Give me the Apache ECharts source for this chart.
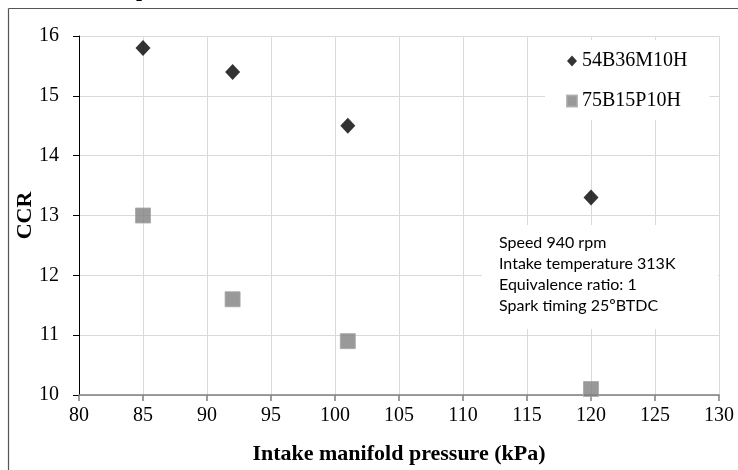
<!DOCTYPE html>
<html>
<head>
<meta charset="utf-8">
<script src="https://cdn.jsdelivr.net/npm/echarts@6/dist/echarts.min.js"></script>
<style>html,body{margin:0;padding:0;background:#fff}#c{width:738px;height:470px}</style>
</head>
<body>
<div id="c"></div>
<script>
var seriesNames = ['54B36M10H', '75B15P10H'];
var pressure = [85, 92, 101, 120];
var ccrA = [15.8, 15.4, 14.5, 13.3];
var ccrB = [13.0, 11.6, 10.9, 10.1];
var xTicks = [80, 85, 90, 95, 100, 105, 110, 115, 120, 125, 130];
var yTicks = [10, 11, 12, 13, 14, 15, 16];
var noteLines = ['Speed 940 rpm', 'Intake temperature 313K', 'Equivalence ratio: 1', 'Spark timing 25ºBTDC'];
var xTitle = 'Intake manifold pressure (kPa)';
var yTitle = 'CCR';

function pairs(xs, ys) { return xs.map(function (x, i) { return [x, ys[i]]; }); }

var chart = echarts.init(document.getElementById('c'), null, { renderer: 'canvas' });
var serif = 'Liberation Serif';
chart.setOption({
  animation: false,
  backgroundColor: '#fff',
  textStyle: { fontFamily: serif },
  grid: { left: 79, right: 19, top: 36, bottom: 74, containLabel: false },
  xAxis: {
    type: 'value', min: xTicks[0], max: xTicks[xTicks.length - 1], interval: 5,
    name: xTitle, nameLocation: 'middle', nameGap: 48,
    nameTextStyle: { fontFamily: serif, fontWeight: 'bold', fontSize: 22, color: '#000' },
    axisLine: { show: true, onZero: false, lineStyle: { color: '#7f7f7f', width: 1.5 } },
    axisTick: { show: true, inside: false, length: 6, lineStyle: { color: '#7f7f7f', width: 1.5 } },
    axisLabel: { fontFamily: serif, fontSize: 20, color: '#000', margin: 11 },
    splitLine: { show: true, lineStyle: { color: '#d9d9d9', width: 1 } }
  },
  yAxis: {
    type: 'value', min: yTicks[0], max: yTicks[yTicks.length - 1], interval: 1,
    name: yTitle, nameLocation: 'middle', nameGap: 43, nameRotate: 90, nameMoveOverlap: false,
    nameTextStyle: { fontFamily: serif, fontWeight: 'bold', fontSize: 22, color: '#000' },
    axisLine: { show: true, lineStyle: { color: '#000', width: 1 } },
    axisTick: { show: true, inside: false, length: 6, lineStyle: { color: '#000', width: 1 } },
    axisLabel: { fontFamily: serif, fontSize: 20, color: '#000', margin: 20 },
    splitLine: { show: true, lineStyle: { color: '#d9d9d9', width: 1 } }
  },
  legend: {
    data: [
      { name: seriesNames[0], icon: 'diamond' },
      { name: seriesNames[1], icon: 'rect' }
    ],
    orient: 'vertical', left: 545, top: 40, itemGap: 20, itemWidth: 10, itemHeight: 11,
    backgroundColor: '#fff', padding: [11, 22, 9, 21],
    textStyle: { fontFamily: serif, fontSize: 20, color: '#000' }
  },
  graphic: [
    { type: 'line', shape: { x1: 8.5, y1: 8.5, x2: 738, y2: 8.5 }, style: { stroke: '#555', lineWidth: 1.2 }, z: 100 },
    { type: 'line', shape: { x1: 8.5, y1: 8.5, x2: 8.5, y2: 470 }, style: { stroke: '#555', lineWidth: 1.2 }, z: 100 },
    { type: 'text', left: 136, top: -21, style: { text: 'p', font: 'bold 22px "Liberation Serif"', fill: '#000' }, z: 100 },
    { type: 'rect', shape: { x: 482, y: 225, width: 236, height: 104 }, style: { fill: '#fff' }, z: 10 },
    { type: 'text', left: 499, top: 232, z: 11,
      style: { text: noteLines.join('\n'), font: '16px Lato', lineHeight: 21, fill: '#000' } }
  ],
  series: [
    { name: seriesNames[0], type: 'scatter', symbol: 'diamond', symbolSize: [15, 16],
      itemStyle: { color: '#000' }, data: pairs(pressure, ccrA), z: 5 },
    { name: seriesNames[1], type: 'scatter', symbol: 'rect', symbolSize: 15,
      itemStyle: { color: '#808080', borderColor: '#a6a6a6', borderWidth: 1 }, data: pairs(pressure, ccrB), z: 5 }
  ]
});
</script>
</body>
</html>
